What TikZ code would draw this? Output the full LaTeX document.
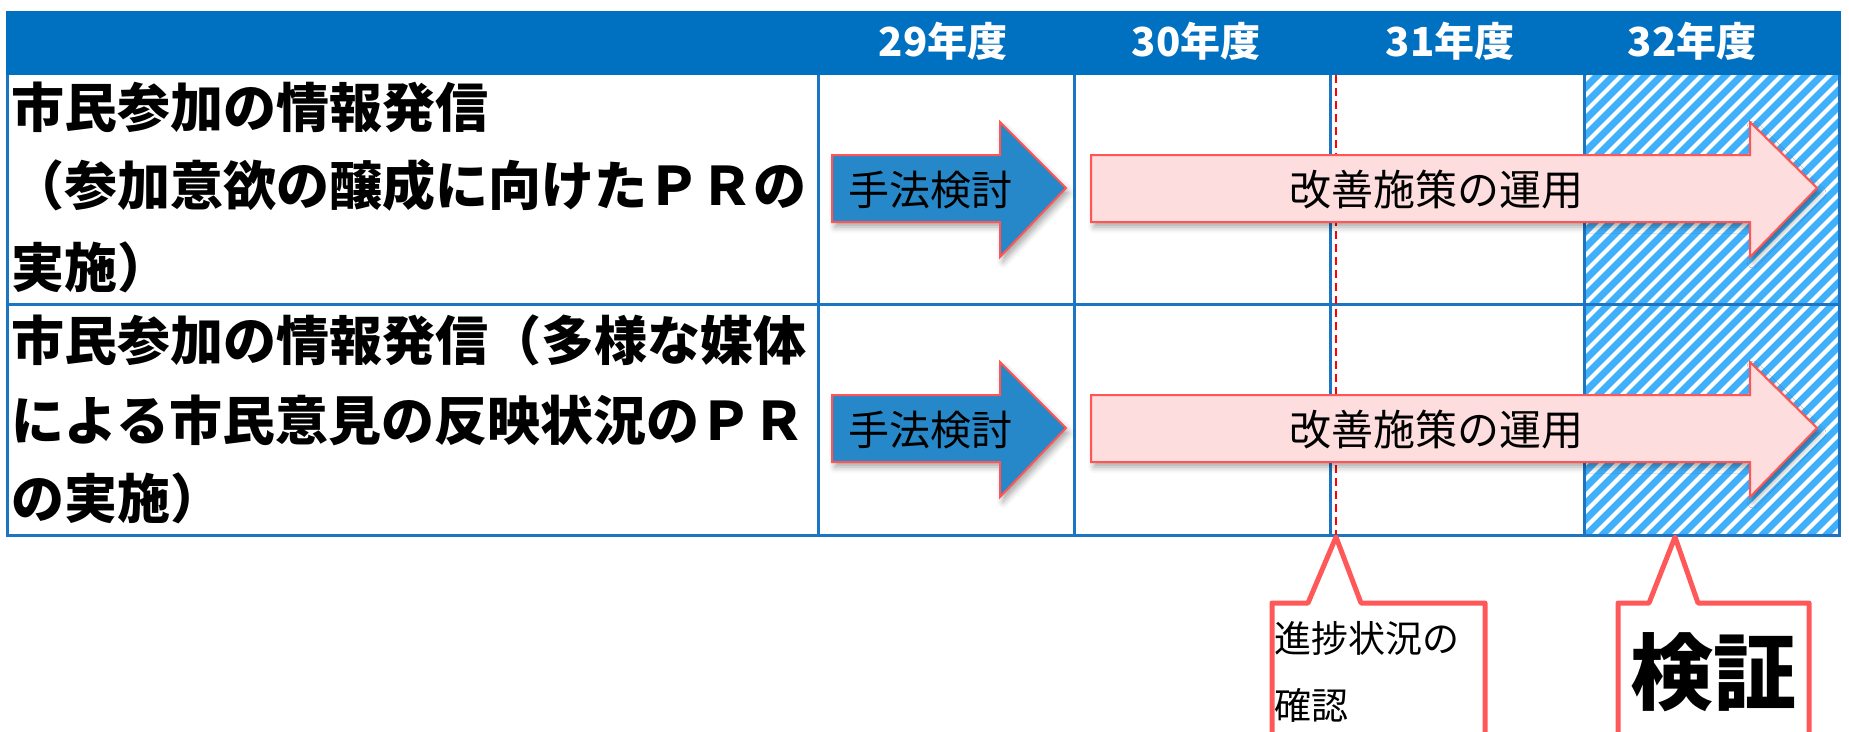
\documentclass[tikz,border=0pt]{standalone}
\usepackage{fontspec}
\setmainfont{Noto Sans CJK JP}
\usetikzlibrary{shadows.blur}
\definecolor{hdr}{RGB}{0,112,192}
\definecolor{gridc}{RGB}{28,117,194}
\definecolor{hatchc}{RGB}{64,176,250}
\definecolor{arrline}{RGB}{255,85,85}
\definecolor{bluefill}{RGB}{38,136,200}
\definecolor{pinkfill}{RGB}{253,221,221}
\definecolor{callred}{RGB}{255,88,88}
\begin{document}
\begin{tikzpicture}[x=1pt,y=-1pt,
  lbl/.style={anchor=west, inner sep=0pt, font=\bfseries\fontsize{53}{60}\selectfont, text height=46.6pt, text depth=6.4pt},
  hdrtxt/.style={anchor=center, inner sep=0pt, text=white, font=\bfseries\fontsize{40}{46}\selectfont, text height=35.2pt, text depth=4.8pt},
  arrtxt/.style={anchor=center, inner sep=0pt, font=\fontsize{42}{48}\selectfont, text height=37pt, text depth=5pt},
  callline/.style={draw=callred, line width=5pt, line join=round, fill=white},
  arrowshape/.style={draw=arrline, line width=2pt, blur shadow={shadow xshift=3pt, shadow yshift=-5pt, shadow opacity=35, shadow blur radius=6pt}},
  gridline/.style={draw=gridc, line width=3pt}
]
\useasboundingbox (0,0) rectangle (1849,731);
\clip (0,0) rectangle (1849,731);

% hatched column (32年度)
\begin{scope}
  \clip (1584,75) rectangle (1839,535);
  \fill[hatchc] (1584,75) rectangle (1839,535);
  \foreach \k in {-32,...,18} {
    \draw[white, line width=4.2pt] (1584+\k*16,545) -- ++(480,-480);
  }
\end{scope}

% grid
\draw[gridline] (7.5,12) rectangle (1839,535);
\draw[gridline] (7.5,304) -- (1839,304);
\foreach \xx in {818,1074,1330,1584} {
  \draw[gridline] (\xx,75) -- (\xx,535);
}
% header band
\fill[hdr] (6,10.5) rectangle (1840.5,75);

% progress check line
\draw[red, line width=2pt, dash pattern=on 8pt off 5pt] (1336,75) -- (1336,537);

% header texts
\node[hdrtxt] (h29) at (943,41) {29年度};
\node[hdrtxt] (h30) at (1196,41) {30年度};
\node[hdrtxt] (h31) at (1450,41) {31年度};
\node[hdrtxt] (h32) at (1692,41) {32年度};

% left column texts
\node[lbl] (r1a) at (11.5,107) {市民参加の情報発信};
\node[lbl] (r1b) at (11.5,185) {（参加意欲の醸成に向けたＰＲの};
\node[lbl] (r1c) at (11.5,267) {実施）};
\node[lbl] (r2a) at (11.5,340) {市民参加の情報発信（多様な媒体};
\node[lbl] (r2b) at (11.5,420) {による市民意見の反映状況のＰＲ};
\node[lbl] (r2c) at (11.5,498) {の実施）};

% arrows row 1 and row 2
\foreach \dy/\nm in {0/1,240/2} {
  \path[arrowshape, fill=bluefill]
    (832,155+\dy) -- (1000,155+\dy) -- (1000,122+\dy) -- (1066,188+\dy)
    -- (1000,257+\dy) -- (1000,222+\dy) -- (832,222+\dy) -- cycle;
  \path[arrowshape, fill=pinkfill]
    (1091,155+\dy) -- (1750,155+\dy) -- (1750,122+\dy) -- (1817,188+\dy)
    -- (1750,257+\dy) -- (1750,222+\dy) -- (1091,222+\dy) -- cycle;
  \node[arrtxt, font=\fontsize{41}{47}\selectfont] (m\nm) at (930,189+\dy) {手法検討};
  \node[arrtxt] (k\nm) at (1436,189+\dy) {改善施策の運用};
}

% callout 1
\path[callline] (1272,760) -- (1272,603) -- (1308,603) -- (1336,537) -- (1361,603)
  -- (1485,603) -- (1485,760);
\node[anchor=west, inner sep=0pt, font=\fontsize{37}{42}\selectfont, text height=32.6pt, text depth=4.4pt] (c1a) at (1274,638) {進捗状況の};
\node[anchor=west, inner sep=0pt, font=\fontsize{37}{42}\selectfont, text height=32.6pt, text depth=4.4pt] (c1b) at (1274,705) {確認};

% callout 2
\path[callline] (1618,760) -- (1618,603) -- (1649,603) -- (1675,537) -- (1698,603)
  -- (1809,603) -- (1809,760);
\node[anchor=center, inner sep=0pt, font=\bfseries\fontsize{83}{90}\selectfont, text height=73pt, text depth=10pt] (c2) at (1713,672) {検証};
\end{tikzpicture}
\end{document}
